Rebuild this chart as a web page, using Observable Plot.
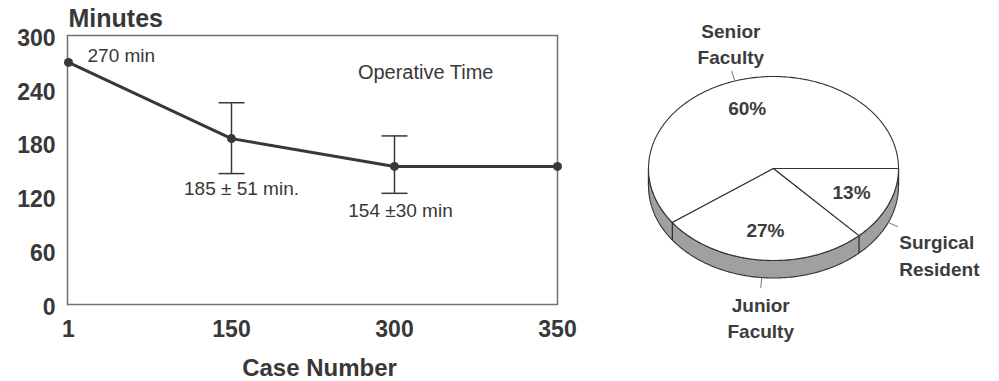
<!DOCTYPE html>
<html><head><meta charset="utf-8">
<script src="https://cdn.jsdelivr.net/npm/d3@7"></script>
<script src="https://cdn.jsdelivr.net/npm/@observablehq/plot@0.6"></script>
<style>
html,body{margin:0;padding:0;background:#fff;}
#wrap{display:flex;width:999px;height:381px;overflow:hidden;}
#wrap svg{display:block;flex:none;}
</style></head><body><div id="wrap"></div>
<script>
// ---------- Line chart data ----------
const caseNumbers = ["1", "150", "300", "350"];
const minutes = [270, 185, 154, 154];
const errCases = ["150", "300"];
const errLow = [146, 124];
const errHigh = [225, 188];
const yTicks = [0, 60, 120, 180, 240, 300];
const annoCases = ["1", "150", "300"];
const annoTexts = ["270 min", "185 ± 51 min.", "154 ±30 min"];
const chartTitle = "Operative Time";
const yTitle = "Minutes";
const xTitle = "Case Number";

// ---------- Pie data ----------
const roles = ["Senior\nFaculty", "Junior\nFaculty", "Surgical\nResident"];
const shares = [60, 27, 13];
const pctLabels = ["60%", "27%", "13%"];

// ---------- Build tables ----------
const ink = "#383838";
const font = "'Liberation Sans', Arial, Helvetica, sans-serif";
const lineData = caseNumbers.map((c, i) => ({case: c, min: minutes[i]}));
const errData = errCases.map((c, i) => ({case: c, lo: errLow[i], hi: errHigh[i]}));
const annoData = annoCases.map((c, i) => ({case: c, min: minutes[caseNumbers.indexOf(c)], text: annoTexts[i]}));

const textStyle = {fill: ink, fontSize: 19};
// horizontal-bar symbol for error-bar caps (half width = r)
const capSymbol = {draw(ctx, size) { const w = Math.sqrt(size / Math.PI); ctx.moveTo(-w, 0); ctx.lineTo(w, 0); }};

const left = Plot.plot({
  width: 620, height: 381,
  marginLeft: 67, marginRight: 63, marginTop: 35, marginBottom: 77,
  style: {fontFamily: font, color: ink, background: "transparent", overflow: "visible"},
  x: {type: "point", domain: caseNumbers, padding: 0},
  y: {domain: [0, 300]},
  marks: [
    Plot.frame({stroke: "#707070", strokeWidth: 1.5}),
    Plot.axisY({ticks: yTicks, tickSize: 0, tickPadding: 12, fontSize: 23, fontWeight: "bold", label: null, dy: 3, fill: ink}),
    Plot.axisX({tickSize: 0, tickPadding: 16, fontSize: 23, fontWeight: "bold", label: null, fill: ink}),
    Plot.ruleX(errData, {x: "case", y1: "lo", y2: "hi", stroke: ink, strokeWidth: 1.5}),
    Plot.dot(errData, {x: "case", y: "hi", symbol: capSymbol, r: 13, fill: "none", stroke: ink, strokeWidth: 1.5}),
    Plot.dot(errData, {x: "case", y: "lo", symbol: capSymbol, r: 13, fill: "none", stroke: ink, strokeWidth: 1.5}),
    Plot.line(lineData, {x: "case", y: "min", stroke: ink, strokeWidth: 3}),
    Plot.dot(lineData, {x: "case", y: "min", r: 4.5, fill: ink, stroke: "none"}),
    Plot.text(annoData.filter(d => d.case === "1"), {x: "case", y: "min", text: "text", textAnchor: "start", dx: 19, dy: -6, lineAnchor: "middle", ...textStyle}),
    Plot.text(annoData.filter(d => d.case === "150"), {x: "case", y: "min", text: "text", dx: 10, dy: 50, lineAnchor: "middle", ...textStyle}),
    Plot.text(annoData.filter(d => d.case === "300"), {x: "case", y: "min", text: "text", dx: 6, dy: 44, lineAnchor: "middle", ...textStyle}),
    Plot.text([chartTitle], {frameAnchor: "top-right", textAnchor: "end", dx: -64, dy: 37, lineAnchor: "middle", fill: ink, fontSize: 20}),
    Plot.text([yTitle], {frameAnchor: "top-left", textAnchor: "start", dx: 1, dy: -17, lineAnchor: "middle", fontSize: 25, fontWeight: "bold", fill: ink}),
    Plot.text([xTitle], {frameAnchor: "bottom", dx: 7, dy: 64, lineAnchor: "middle", fontSize: 24, fontWeight: "bold", fill: ink})
  ]
});

// ---------- Pie geometry (tilted disc) ----------
const tilt = 0.736, depth = 0.14, deg = Math.PI / 180;
const rim = (a, down = 0) => ({x: Math.cos(a * deg), y: tilt * Math.sin(a * deg) - down});
let cum = 0;
const slices = roles.map((r, i) => {
  const a0 = cum * 3.6; cum += shares[i]; const a1 = cum * 3.6;
  return {role: r, pct: pctLabels[i], a0, a1, mid: (a0 + a1) / 2};
});
const topPts = [];
for (const s of slices) {
  topPts.push({role: s.role, x: 0, y: 0});
  const n = Math.ceil(s.a1 - s.a0);
  for (let k = 0; k <= n; k++) topPts.push({role: s.role, ...rim(s.a0 + (s.a1 - s.a0) * k / n)});
}
const sidePts = [];
for (let a = 180; a <= 360; a++) sidePts.push(rim(a));
for (let a = 360; a >= 180; a--) sidePts.push(rim(a, depth));
const edgeAngles = [180, 360, ...slices.map(s => s.a0).filter(a => a > 180 && a < 360)];
const edges = edgeAngles.map(a => {const p = rim(a), q = rim(a, depth); return {x1: p.x, y1: p.y, x2: q.x, y2: q.y};});
const leaders = slices.map(s => {
  const front = Math.sin(s.mid * deg) < 0;
  const p = rim(s.mid, front ? depth : 0);
  const L = 0.085;
  return {role: s.role, x1: p.x, y1: p.y, x2: p.x + L * Math.cos(s.mid * deg), y2: p.y + L * Math.sin(s.mid * deg)};
});
const pctPos = slices.map(s => ({pct: s.pct, x: 0.68 * Math.cos(s.mid * deg), y: 0.68 * tilt * Math.sin(s.mid * deg)}));
const lab = (i) => [{role: leaders[i].role, x: leaders[i].x1, y: leaders[i].y1}];

const pieInk = "#3c3c3c";
const right = Plot.plot({
  width: 379, height: 381, margin: 0,
  style: {fontFamily: font, background: "transparent", overflow: "visible"},
  x: {domain: [-1.224, 1.808], axis: null},
  y: {domain: [-1.704, 1.344], axis: null},
  marks: [
    Plot.line(sidePts, {x: "x", y: "y", curve: "linear-closed", fill: "#a0a0a0", stroke: "#333", strokeWidth: 1.1}),
    Plot.link(edges, {x1: "x1", y1: "y1", x2: "x2", y2: "y2", stroke: "#333", strokeWidth: 1.3}),
    Plot.line(topPts, {x: "x", y: "y", z: "role", curve: "linear-closed", fill: "white", stroke: "#333", strokeWidth: 1.1}),
    Plot.link(leaders, {x1: "x1", y1: "y1", x2: "x2", y2: "y2", stroke: "#777", strokeWidth: 1}),
    Plot.text(pctPos, {x: "x", y: "y", text: "pct", lineAnchor: "middle", fontSize: 19, fontWeight: "bold", fill: pieInk}),
    Plot.text(lab(0), {x: "x", y: "y", text: "role", lineAnchor: "bottom", lineHeight: 1.35, dx: -4, dy: -17, fontSize: 19, fontWeight: "bold", fill: pieInk}),
    Plot.text(lab(1), {x: "x", y: "y", text: "role", lineAnchor: "bottom", lineHeight: 1.35, dx: -1, dy: 60, fontSize: 19, fontWeight: "bold", fill: pieInk}),
    Plot.text(lab(2), {x: "x", y: "y", text: "role", lineAnchor: "bottom", lineHeight: 1.4, textAnchor: "start", dx: 11, dy: 53, fontSize: 19, fontWeight: "bold", fill: pieInk})
  ]
});

document.getElementById("wrap").append(left, right);
</script></body></html>
